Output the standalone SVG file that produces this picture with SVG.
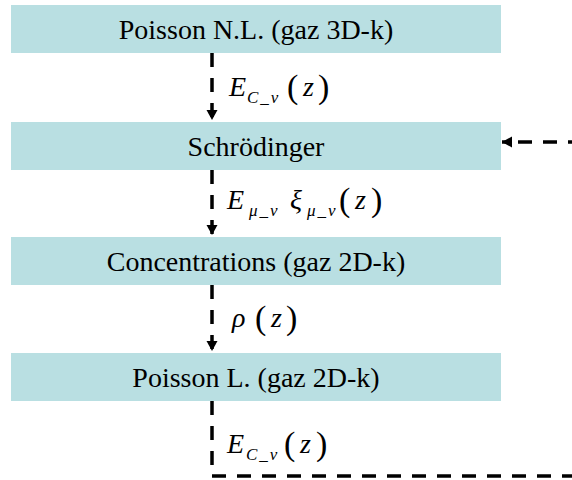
<svg xmlns="http://www.w3.org/2000/svg" width="572" height="480" viewBox="0 0 572 480">
<defs>
<style>
.box{fill:#b9dfe2}
.t{font-family:"Liberation Serif","Times New Roman",serif;font-size:28px;fill:#000;text-anchor:middle}
.m{font-family:"Liberation Serif","Times New Roman",serif;font-size:28px;font-style:italic;fill:#000}
.s{font-family:"Liberation Serif","Times New Roman",serif;font-size:17px;font-style:italic;fill:#000;letter-spacing:2px}
.p{font-family:"Liberation Serif","Times New Roman",serif;font-size:34px;fill:#000}
.c{fill:none;stroke:#000;stroke-width:3.5;stroke-dasharray:14 11}
</style>
<marker id="ah" markerWidth="12" markerHeight="12" refX="10" refY="5.5" orient="auto" markerUnits="userSpaceOnUse">
<path d="M0,0 L10,5.5 L0,11 Z" fill="#000"/>
</marker>
</defs>
<g id="n1"><rect class="box" x="11" y="5" width="490" height="48"/><text class="t" x="256" y="39">Poisson N.L. (gaz 3D-k)</text></g>
<g id="n2"><rect class="box" x="11" y="122" width="490" height="48"/><text class="t" x="256" y="156">Schrödinger</text></g>
<g id="n3"><rect class="box" x="11" y="237" width="490" height="48"/><text class="t" x="256" y="271">Concentrations (gaz 2D-k)</text></g>
<g id="n4"><rect class="box" x="11" y="353" width="490" height="48"/><text class="t" x="256" y="387">Poisson L. (gaz 2D-k)</text></g>
<g id="connectors">
<path class="c" d="M212,53 V120" marker-end="url(#ah)"/>
<path class="c" d="M212,170 V235" marker-end="url(#ah)"/>
<path class="c" d="M212,285 V351" marker-end="url(#ah)"/>
<path class="c" d="M212,401 V476 H580 V142 H502" marker-end="url(#ah)"/>
</g>
<g id="labels">
<text class="m" x="229" y="96">E</text><text class="s" x="247" y="103">C_v</text><text class="p" x="287" y="98">(</text><text class="m" x="303" y="96">z</text><text class="p" x="318" y="98">)</text>
<text class="m" x="227" y="209">E</text><text class="s" x="249" y="216">μ_v</text><text class="m" x="290" y="209">ξ</text><text class="s" x="307" y="216">μ_v</text><text class="p" x="339" y="211">(</text><text class="m" x="355" y="209">z</text><text class="p" x="371" y="211">)</text>
<text class="m" x="232" y="327">ρ</text><text class="p" x="255" y="329">(</text><text class="m" x="271" y="327">z</text><text class="p" x="286" y="329">)</text>
<text class="m" x="227" y="453">E</text><text class="s" x="246" y="460">C_v</text><text class="p" x="284" y="455">(</text><text class="m" x="300" y="453">z</text><text class="p" x="316" y="455">)</text>
</g>
</svg>
